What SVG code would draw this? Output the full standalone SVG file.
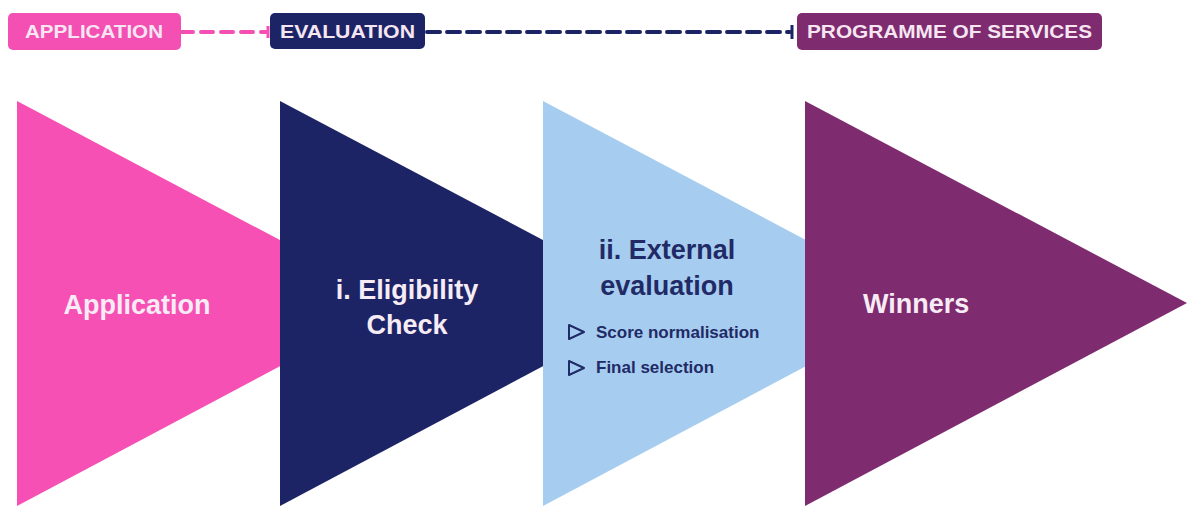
<svg xmlns="http://www.w3.org/2000/svg" width="1187" height="506" viewBox="0 0 1187 506">
<style>
.tag{font-family:"Liberation Sans",Arial,sans-serif;font-weight:bold;font-size:18px;fill:#f6e6f2}
.big{font-family:"Liberation Sans",Arial,sans-serif;font-weight:bold;font-size:27px}
.lt{fill:#f7ecf5}
.dk{fill:#1f2a66}
.sm{font-family:"Liberation Sans",Arial,sans-serif;font-weight:bold;font-size:17px;fill:#1f2a66}
.bul{fill:none;stroke:#1f2a66;stroke-width:2;stroke-linejoin:round}
</style>
<rect width="1187" height="506" fill="#ffffff"/>
<g id="connectors">
<line x1="181" y1="32" x2="266" y2="32" stroke="#f44fb3" stroke-width="4" stroke-dasharray="12 8" stroke-linecap="round"/>
<line x1="268" y1="26" x2="268" y2="38" stroke="#f44fb3" stroke-width="3"/>
<line x1="427" y1="32" x2="790" y2="32" stroke="#1c2466" stroke-width="4" stroke-dasharray="13 7" stroke-linecap="round"/>
<line x1="792" y1="25" x2="792" y2="39" stroke="#1c2466" stroke-width="3"/>
</g>
<g id="tag-application">
<rect x="8" y="13" width="173" height="37" rx="5" fill="#f44fb3"/>
<text class="tag" x="25" y="38" textLength="138" lengthAdjust="spacingAndGlyphs">APPLICATION</text>
</g>
<g id="tag-evaluation">
<rect x="270" y="13" width="155" height="36" rx="5" fill="#1c2466"/>
<text class="tag" x="280" y="38" textLength="135" lengthAdjust="spacingAndGlyphs">EVALUATION</text>
</g>
<g id="tag-programme">
<rect x="797" y="13" width="305" height="37" rx="5" fill="#7e2b6f"/>
<text class="tag" x="807" y="38" textLength="285" lengthAdjust="spacingAndGlyphs">PROGRAMME OF SERVICES</text>
</g>
<g id="node-application">
<polygon points="17,101 399,303 17,506" fill="#f750b4"/>
<text class="big lt" x="137" y="314" text-anchor="middle">Application</text>
</g>
<g id="node-eligibility">
<polygon points="280,101 662,303 280,506" fill="#1c2466"/>
<text class="big lt" x="407" y="299" text-anchor="middle">i. Eligibility</text>
<text class="big lt" x="407" y="334" text-anchor="middle">Check</text>
</g>
<g id="node-external">
<polygon points="543,101 925,303 543,506" fill="#a6cdef"/>
<text class="big dk" x="667" y="259" text-anchor="middle">ii. External</text>
<text class="big dk" x="667" y="295" text-anchor="middle">evaluation</text>
<polygon class="bul" points="569,325 584,332 569,339"/>
<text class="sm" x="596" y="338">Score normalisation</text>
<polygon class="bul" points="569,361 584,368 569,375"/>
<text class="sm" x="596" y="373">Final selection</text>
</g>
<g id="node-winners">
<polygon points="805,101 1187,303 805,506" fill="#7e2b6f"/>
<text class="big lt" x="863" y="313">Winners</text>
</g>
</svg>
